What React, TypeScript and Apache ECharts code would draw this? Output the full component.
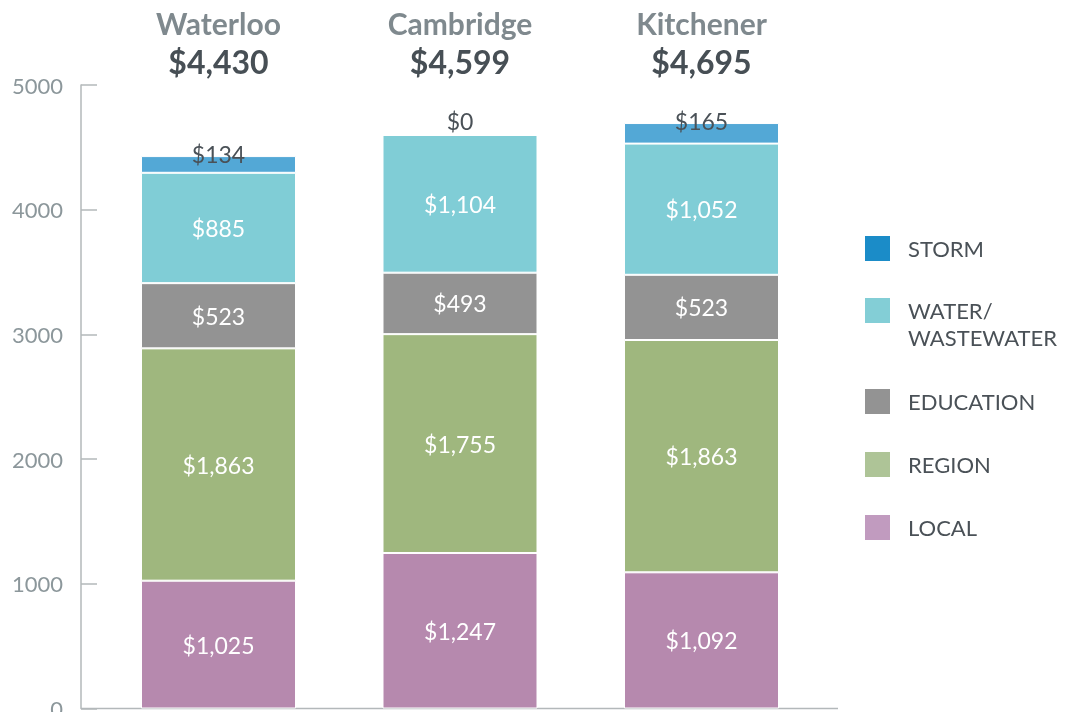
import React, { useEffect, useRef } from "react";
import * as echarts from "echarts";

const cities = ["Waterloo", "Cambridge", "Kitchener"];
const local = [1025, 1247, 1092];
const region = [1863, 1755, 1863];
const education = [523, 493, 523];
const water = [885, 1104, 1052];
const storm = [134, 0, 165];
const yTicks = [0, 1000, 2000, 3000, 4000, 5000];

const FONT = "Lato, 'Open Sans', sans-serif";
const money = (v: number) => "$" + v.toLocaleString("en-US");

export default function App() {
  const ref = useRef<HTMLDivElement>(null);
  useEffect(() => {
    if (!ref.current) return;
    const chart = echarts.init(ref.current, null, { renderer: "svg" });
    const totals = cities.map(
      (_, i) => local[i] + region[i] + education[i] + water[i] + storm[i]
    );
    const segLabel = {
      show: true,
      position: "inside",
      color: "#ffffff",
      fontFamily: FONT,
      fontSize: 23,
      formatter: (p: any) => money(p.value),
    };
    const mk = (name: string, data: number[], color: string) => ({
      name,
      type: "bar",
      stack: "total",
      barWidth: 155,
      data,
      itemStyle: { color, borderColor: "#ffffff", borderWidth: 1 },
      label: segLabel,
    });
    const legendText = {
      fontFamily: FONT,
      fontSize: 22,
      color: "#4a5157",
      lineHeight: 27,
      padding: [0, 0, 0, 12],
    };
    const legendBase = {
      orient: "vertical",
      left: 863,
      padding: 0,
      itemWidth: 27,
      itemHeight: 27,
      itemGap: 36,
      icon: "rect",
      selectedMode: false,
      textStyle: legendText,
    };
    chart.setOption({
      animation: false,
      grid: { left: 97.75, right: 265.75, top: 85, bottom: 3.5, outerBoundsMode: "none", containLabel: false },
      xAxis: [
        {
          type: "category",
          data: cities,
          position: "bottom",
          axisLine: { show: false },
          axisTick: { show: false },
          axisLabel: { show: false },
        },
        {
          type: "category",
          data: cities,
          position: "top",
          axisLine: { show: false },
          axisTick: { show: false },
          axisLabel: {
            margin: 4,
            formatter: (v: string, i: number) => `{n|${v}}\n{t|${money(totals[i])}}`,
            rich: {
              n: { fontFamily: FONT, fontWeight: "bold", fontSize: 30, color: "#7f898e", lineHeight: 39 },
              t: { fontFamily: FONT, fontWeight: "bold", fontSize: 32, color: "#474f55", lineHeight: 39 },
            },
          },
        },
      ],
      yAxis: {
        type: "value",
        min: yTicks[0],
        max: yTicks[yTicks.length - 1],
        interval: 1000,
        offset: 16.75,
        axisLine: { show: true, lineStyle: { color: "#b3b8ba", width: 1.5 } },
        axisTick: { show: true, inside: true, length: 16, lineStyle: { color: "#b3b8ba", width: 1.5 } },
        splitLine: { show: false },
        axisLabel: {
          margin: 18,
          color: "#8c979b",
          fontFamily: FONT,
          fontSize: 22,
          formatter: (v: number) => String(v),
        },
      },
      legend: [
        { ...legendBase, top: 234, data: [{ name: "STORM", itemStyle: { color: "#1b8cc8" } }] },
        {
          ...legendBase,
          top: 270,
          data: [{ name: "WATER", itemStyle: { color: "#83ced6" } }],
          formatter: () => "\nWATER/\nWASTEWATER",
        },
        {
          ...legendBase,
          top: 387,
          itemGap: 34,
          data: [
            { name: "EDUCATION", itemStyle: { color: "#939393" } },
            { name: "REGION", itemStyle: { color: "#aec497" } },
            { name: "LOCAL", itemStyle: { color: "#c19bbf" } },
          ],
        },
      ],
      graphic: [
        {
          type: "line",
          shape: { x1: 81, y1: 708.5, x2: 838, y2: 708.5 },
          style: { stroke: "#b3b8ba", lineWidth: 1.5 },
          silent: true,
        },
      ],
      series: [
        mk("LOCAL", local, "#b689ae"),
        mk("REGION", region, "#9fb77e"),
        mk("EDUCATION", education, "#939393"),
        mk("WATER", water, "#80cdd6"),
        {
          name: "STORM",
          type: "bar",
          stack: "total",
          barWidth: 155,
          itemStyle: { color: "#53a8d6", borderColor: "#ffffff", borderWidth: 1 },
          data: storm.map((v) => ({
            value: v,
            label: {
              show: true,
              position: "top",
              distance: v === 0 ? 2 : -9,
              color: "#4a5157",
              fontFamily: FONT,
              fontSize: 23,
              formatter: (p: any) => money(p.value),
            },
          })),
        },
      ],
    });
    return () => chart.dispose();
  }, []);
  return (
    <div
      ref={ref}
      style={{ position: "fixed", left: 0, top: 0, width: 1088, height: 712 }}
    />
  );
}
